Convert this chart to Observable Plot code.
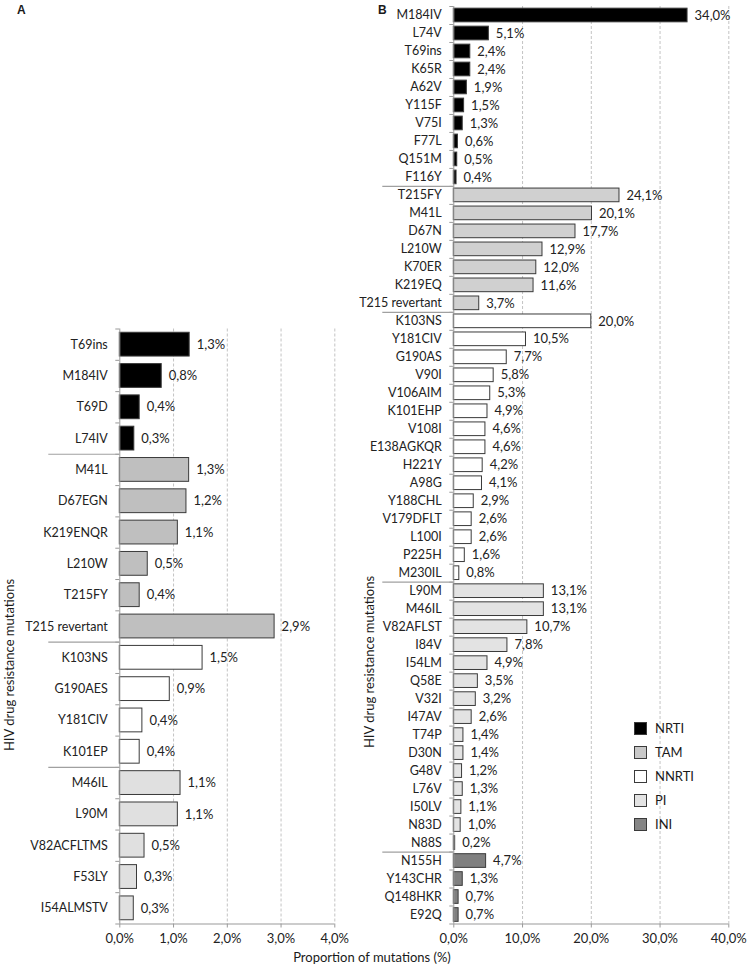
<!DOCTYPE html>
<html>
<head>
<meta charset="utf-8">
<script src="https://cdn.jsdelivr.net/npm/d3@7"></script>
<script src="https://cdn.jsdelivr.net/npm/@observablehq/plot@0.6"></script>
<style>
  body { margin: 0; background: #fff; font-family: Lato, "Liberation Sans", sans-serif; color: #1a1a1a; }
  #wrap { position: relative; width: 748px; height: 971px; overflow: hidden; }
  .abs { position: absolute; }
  .panel { font: bold 12px "Liberation Sans", Arial, sans-serif; }
  .ytitle { font-size: 13px; white-space: nowrap; transform: translate(-50%, -50%) rotate(-90deg); }
  .xtitle { font-size: 13px; white-space: nowrap; transform: translate(-50%, -50%); }
  .leg { font-size: 13px; display: flex; align-items: center; height: 16px; }
  .leg span.box { display: inline-block; width: 11px; height: 11px; border: 1px solid #3a3a3a; margin-right: 8px; }
</style>
</head>
<body>
<div id="wrap"></div>
<script>
// ---------- Data ----------
const groups = ["NRTI", "TAM", "NNRTI", "PI", "INI"];
const legendColors = ["#000000", "#c8c8c8", "#ffffff", "#e3e3e3", "#858585"];

// Panel A
const aMutations = ["T69ins", "M184IV", "T69D", "L74IV",
  "M41L", "D67EGN", "K219ENQR", "L210W", "T215FY", "T215 revertant",
  "K103NS", "G190AES", "Y181CIV", "K101EP",
  "M46IL", "L90M", "V82ACFLTMS", "F53LY", "I54ALMSTV"];
const aValues = [1.30, 0.78, 0.37, 0.27,
  1.29, 1.24, 1.08, 0.52, 0.37, 2.88,
  1.54, 0.93, 0.42, 0.37,
  1.13, 1.08, 0.46, 0.32, 0.26];
const aGroups = ["NRTI", "NRTI", "NRTI", "NRTI",
  "TAM", "TAM", "TAM", "TAM", "TAM", "TAM",
  "NNRTI", "NNRTI", "NNRTI", "NNRTI",
  "PI", "PI", "PI", "PI", "PI"];
const aColors = ["#000000", "#bfbfbf", "#ffffff", "#e0e0e0", "#808080"];
const aTicks = [0, 1, 2, 3, 4];

// Panel B
const bMutations = ["M184IV", "L74V", "T69ins", "K65R", "A62V", "Y115F", "V75I", "F77L", "Q151M", "F116Y",
  "T215FY", "M41L", "D67N", "L210W", "K70ER", "K219EQ", "T215 revertant",
  "K103NS", "Y181CIV", "G190AS", "V90I", "V106AIM", "K101EHP", "V108I", "E138AGKQR", "H221Y", "A98G",
  "Y188CHL", "V179DFLT", "L100I", "P225H", "M230IL",
  "L90M", "M46IL", "V82AFLST", "I84V", "I54LM", "Q58E", "V32I", "I47AV", "T74P", "D30N", "G48V", "L76V",
  "I50LV", "N83D", "N88S",
  "N155H", "Y143CHR", "Q148HKR", "E92Q"];
const bValues = [34.0, 5.1, 2.4, 2.4, 1.9, 1.5, 1.3, 0.6, 0.5, 0.4,
  24.1, 20.1, 17.7, 12.9, 12.0, 11.6, 3.7,
  20.0, 10.5, 7.7, 5.8, 5.3, 4.9, 4.6, 4.6, 4.2, 4.1, 2.9, 2.6, 2.6, 1.6, 0.8,
  13.1, 13.1, 10.7, 7.8, 4.9, 3.5, 3.2, 2.6, 1.4, 1.4, 1.2, 1.3, 1.1, 1.0, 0.2,
  4.7, 1.3, 0.7, 0.7];
const bGroupSizes = [10, 7, 15, 15, 4];
const bColors = ["#000000", "#d0d0d0", "#ffffff", "#e3e3e3", "#808080"];
const bTicks = [0, 10, 20, 30, 40];

// ---------- Helpers ----------
const fmt = v => v.toFixed(1).replace(".", ",") + "%";
const bGroups = bGroupSizes.flatMap((n, k) => Array(n).fill(groups[k]));

function groupBoundaries(gs) {
  const out = [];
  for (let i = 1; i < gs.length; i++) if (gs[i] !== gs[i - 1]) out.push(i);
  return out;
}

function panel({names, values, grp, colors, ticks, width, height, margins}) {
  const N = names.length;
  const data = names.map((name, i) => ({name, value: values[i], group: grp[i], i}));
  const pad = 0.12;
  return Plot.plot({
    width, height,
    marginLeft: margins[0], marginRight: margins[1], marginTop: margins[2], marginBottom: margins[3],
    style: {fontFamily: "Lato, 'Liberation Sans', sans-serif", fontSize: "13px", color: "#222", overflow: "visible", background: "transparent"},
    x: {domain: [ticks[0], ticks[ticks.length - 1]]},
    y: {domain: [0, N], reverse: true},
    color: {domain: groups, range: colors},
    marks: [
      Plot.gridX({ticks: ticks.slice(1), stroke: "#c4c4c4", strokeOpacity: 1, strokeDasharray: "3,2"}),
      Plot.rectX(data, {x1: 0, x2: "value", y1: d => d.i + pad, y2: d => d.i + 1 - pad,
        fill: "group", stroke: "#3a3a3a", strokeWidth: 1}),
      Plot.text(data, {x: "value", y: d => d.i + 0.5, text: d => fmt(d.value), textAnchor: "start", dx: 7, fontSize: 13, fill: "#222"}),
      Plot.axisY({ticks: data.map(d => d.i + 0.5), tickFormat: v => names[Math.floor(v)], tickSize: 0, tickPadding: 12, fontSize: 12.5, label: null}),
      Plot.axisY({ticks: d3.range(N + 1), tickFormat: () => "", tickSize: 4, stroke: "#999", label: null}),
      Plot.axisY({ticks: groupBoundaries(grp), tickFormat: () => "", tickSize: 71, stroke: "#a0a0a0", strokeWidth: 1.2, label: null}),
      Plot.axisX({ticks, tickFormat: fmt, tickSize: 4, tickPadding: 6, fontSize: 13, stroke: "#999", label: null}),
      Plot.ruleX([0], {stroke: "#999"}),
      Plot.ruleY([N], {stroke: "#999"})
    ]
  });
}

const wrap = document.getElementById("wrap");

const svgA = panel({names: aMutations, values: aValues, grp: aGroups, colors: aColors, ticks: aTicks,
  width: 350, height: 971, margins: [119.3, 15.7, 328.5, 47.5]});
svgA.style.position = "absolute"; svgA.style.left = "0px"; svgA.style.top = "0px";
wrap.appendChild(svgA);

const svgB = panel({names: bMutations, values: bValues, grp: bGroups, colors: bColors, ticks: bTicks,
  width: 388, height: 971, margins: [93.3, 19.7, 6, 47.5]});
svgB.style.position = "absolute"; svgB.style.left = "360px"; svgB.style.top = "0px";
wrap.appendChild(svgB);

// ---------- Text ----------
function addDiv(cls, text, left, top) {
  const d = document.createElement("div");
  d.className = "abs " + cls;
  d.textContent = text;
  d.style.left = left + "px"; d.style.top = top + "px";
  wrap.appendChild(d);
  return d;
}
addDiv("panel", "A", 17, 3);
addDiv("panel", "B", 378, 3);
addDiv("ytitle", "HIV drug resistance mutations", 9, 665);
addDiv("ytitle", "HIV drug resistance mutations", 369, 662);
addDiv("xtitle", "Proportion of mutations (%)", 372, 957);

// Legend
groups.forEach((g, k) => {
  const d = document.createElement("div");
  d.className = "abs leg";
  d.style.left = "634px"; d.style.top = (720 + k * 24) + "px";
  const b = document.createElement("span");
  b.className = "box"; b.style.background = legendColors[k];
  d.appendChild(b);
  d.appendChild(document.createTextNode(g));
  wrap.appendChild(d);
});
</script>
</body>
</html>
